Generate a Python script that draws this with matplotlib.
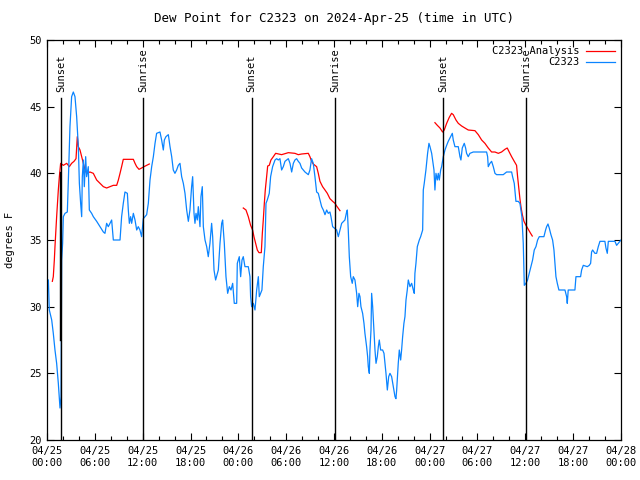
import matplotlib
matplotlib.use("Agg")
import matplotlib.pyplot as plt
import numpy as np

#------------------------------------------------------Data------------------------------------------------------------#
# time in hours since 2024-04-25 00:00 UTC, dew point in degrees F

obs_hours = [0.17, 0.29, 0.59, 0.79, 1.00, 1.21, 1.42, 1.63, 1.76, 1.84, 1.96, 2.05, 2.26, 2.55, 2.68, 2.88,
             3.09, 3.30, 3.51, 3.72, 3.93, 4.06, 4.22, 4.35, 4.43, 4.56, 4.68, 4.85, 4.97, 5.18, 5.31, 5.60,
             5.81, 6.23, 6.65, 7.07, 7.27, 7.48, 7.69, 7.90, 8.11, 8.32, 9.16, 9.36, 9.57, 9.78, 10.08, 10.20,
             10.33, 10.49, 10.62, 10.83, 11.04, 11.25, 11.45, 11.66, 11.87, 12.08, 12.50, 12.71, 12.92, 13.13,
             13.34, 13.55, 13.75, 14.17, 14.38, 14.59, 14.72, 14.92, 15.22, 15.43, 15.64, 15.84, 16.05, 16.26,
             16.47, 16.68, 16.89, 17.10, 17.31, 17.52, 17.73, 17.93, 18.14, 18.27, 18.44, 18.56, 18.69, 18.85,
             18.98, 19.19, 19.31, 19.48, 19.61, 19.82, 20.03, 20.23, 20.44, 20.65, 20.78, 20.95, 21.15, 21.49,
             21.70, 21.91, 22.03, 22.24, 22.45, 22.66, 22.87, 23.08, 23.29, 23.49, 23.79,
             23.87, 24.12, 24.29, 24.46, 24.62, 24.83, 25.25, 25.46, 25.54, 25.67, 25.88, 26.09, 26.30, 26.51,
             26.63, 26.80, 26.96, 27.13, 27.34, 27.47, 27.63, 27.88, 28.05, 28.30, 28.60, 28.81, 29.01, 29.22,
             29.43, 29.64, 29.85, 30.06, 30.27, 30.48, 30.69, 30.90, 31.10, 31.31, 31.52, 31.73, 31.94, 32.36,
             32.78, 32.98, 33.19, 33.40, 33.61, 33.82, 34.03, 34.24, 34.45, 34.66, 34.87, 35.08, 35.28, 35.49,
             35.62, 35.83, 36.33, 36.54, 36.75, 36.96, 37.37, 37.58, 37.67, 37.79, 37.92, 38.09, 38.29, 38.42,
             38.63, 38.84, 38.97, 39.13, 39.26, 39.38, 39.59, 39.76, 39.88, 40.09, 40.22, 40.30, 40.43, 40.51,
             40.64, 40.72, 40.85, 41.01, 41.14, 41.27, 41.43, 41.56, 41.68, 41.85, 42.10, 42.27, 42.39, 42.52,
             42.69, 42.86, 43.02, 43.23, 43.44, 43.65, 43.77, 43.86, 43.98, 44.06, 44.19, 44.36, 44.48, 44.61,
             44.77, 44.90, 45.03, 45.19, 45.32, 45.53, 45.74, 45.95, 46.07, 46.15, 46.28, 46.45, 46.57, 46.70,
             46.87, 47.12, 47.20, 47.32, 47.53, 47.74, 47.91, 48.04, 48.25, 48.37, 48.54, 48.66, 48.79, 48.96,
             49.08, 49.21, 49.38, 49.50, 49.71, 49.92, 50.13, 50.33,
             50.63, 50.84, 50.96, 51.17, 51.59, 51.80, 51.92, 52.09, 52.34, 52.51, 52.63, 52.84, 53.05, 53.47,
             55.14, 55.27, 55.35, 55.56, 55.77, 55.98, 56.19, 56.40, 57.23, 57.44, 57.65, 58.28, 58.40, 58.61,
             58.82, 59.11, 59.32, 59.45, 59.57, 59.74, 59.87, 60.08, 60.28, 60.49, 60.70, 60.91, 61.12, 61.33,
             61.54, 61.75, 62.33, 62.54, 62.67, 62.84, 63.00, 63.21, 63.42, 63.59, 63.71, 63.84, 64.01, 64.21,
             64.97, 65.18, 65.26, 65.38, 66.22, 66.35, 66.93, 67.06, 67.27, 67.77, 68.02, 68.19, 68.31, 68.44,
             68.73, 68.94, 69.15, 69.36, 69.98, 70.11, 70.28, 70.41, 71.24, 71.45, 71.66, 72.0]
obs_dewpt = [32.0, 29.75, 29.0, 28.0, 26.75, 25.75, 24.25, 22.4, 23.25, 33.5, 34.75, 36.75, 37.0, 37.1, 39.5, 43.5,
             45.75, 46.1, 45.75, 44.25, 42.0, 39.25, 37.75, 36.75, 39.75, 41.0, 39.0, 41.25, 39.75, 40.5, 37.25, 37.0,
             36.75, 36.4, 36.0, 35.6, 35.5, 36.25, 36.0, 36.25, 36.5, 35.0, 35.0, 36.75, 37.75, 38.6, 38.5, 37.25,
             36.25, 36.75, 36.25, 37.0, 36.5, 35.75, 36.0, 35.75, 35.25, 36.6, 36.9, 37.75, 39.5, 40.5,
             41.25, 42.25, 43.0, 43.1, 42.5, 41.75, 42.5, 42.75, 42.9, 42.0, 41.25, 40.25, 40.0, 40.25,
             40.6, 40.75, 39.75, 39.25, 38.5, 37.25, 36.4, 37.25, 39.0, 39.75, 37.0, 36.25, 37.0, 36.5,
             37.5, 36.0, 38.25, 39.0, 36.0, 35.0, 34.5, 33.75, 34.75, 36.25, 35.25, 32.75, 32.0, 32.75,
             34.75, 36.25, 36.5, 34.75, 32.25, 31.0, 31.5, 31.25, 31.75, 30.25, 30.25,
             33.25, 33.75, 32.25, 33.5, 33.75, 33.0, 33.0, 32.25, 30.75, 30.0, 30.25, 29.75, 31.25, 32.25,
             30.75, 31.0, 31.25, 33.0, 34.5, 37.75, 38.0, 38.5, 39.75, 40.5, 41.0, 41.1, 41.0, 41.1,
             40.25, 40.5, 40.9, 41.0, 41.1, 40.75, 40.1, 40.75, 41.0, 41.1, 40.9, 40.75, 40.4, 40.1,
             39.9, 40.25, 41.1, 40.75, 39.75, 38.6, 38.5, 38.0, 37.5, 37.25, 36.9, 37.25, 37.0, 37.1,
             36.75, 36.0, 35.75, 35.25, 35.75, 36.25, 36.5, 37.1, 37.25, 35.75, 33.75, 32.25, 31.75, 32.25,
             32.0, 31.0, 30.0, 31.0, 30.75, 30.0, 29.5, 28.75, 28.0, 27.0, 26.25, 25.5, 25.0, 26.75,
             28.25, 31.0, 30.0, 28.25, 26.75, 25.75, 26.25, 27.0, 27.5, 26.75, 26.75, 26.5, 25.75, 25.0,
             23.75, 24.75, 25.0, 24.75, 24.0, 23.25, 23.1, 23.75, 25.0, 25.75, 26.75, 26.0, 26.75, 27.75,
             28.75, 29.25, 30.5, 31.25, 32.0, 31.5, 31.75, 31.25, 31.0, 32.5, 33.25, 34.5, 34.75, 35.0,
             35.25, 35.75, 38.75, 39.25, 40.25, 41.5, 42.25, 42.0, 41.5, 41.0, 40.25, 38.75, 40.0, 39.5,
             40.0, 39.5, 40.25, 40.5, 41.25, 41.75, 42.1, 42.4,
             42.75, 43.0, 42.5, 42.0, 42.0, 41.25, 41.0, 41.9, 42.25, 41.9, 41.5, 41.25, 41.5, 41.6,
             41.6, 41.25, 40.5, 40.75, 40.9, 40.5, 40.0, 39.9, 39.9, 40.0, 40.1, 40.1, 39.75, 39.25,
             37.9, 37.9, 37.75, 37.25, 36.75, 34.75, 31.6, 31.75, 32.0, 32.5, 33.0, 33.5, 34.25, 34.5,
             35.0, 35.25, 35.25, 35.75, 36.0, 36.2, 35.9, 35.4, 35.0, 34.25, 33.25, 32.25, 31.75, 31.25,
             31.25, 30.75, 30.25, 31.25, 31.25, 32.25, 32.25, 32.75, 33.1, 33.0, 33.1, 33.25, 34.1, 34.25,
             34.0, 34.0, 34.5, 34.9, 34.9, 34.4, 34.0, 34.9, 34.9, 34.6, 34.75, 35.0]

# analysis runs (three separate pieces)
ana1_hours = [0.67, 0.79, 0.92, 1.00, 1.21, 1.42, 1.55, 1.71, 2.05, 2.47, 2.80, 3.09, 3.39, 3.64, 3.80, 3.93,
              4.14, 4.35, 4.56, 4.77, 4.97, 5.39, 5.81, 6.23, 6.65, 7.07, 7.48, 8.32, 8.74, 8.95, 9.16, 9.36,
              9.57, 10.83, 11.04, 11.25, 11.54, 11.87, 12.17, 12.50, 12.83]
ana1_dewpt = [31.9, 32.25, 33.5, 34.5, 36.75, 38.75, 39.75, 40.75, 40.6, 40.75, 40.5, 40.75, 40.9, 41.1, 42.75, 42.0,
              41.75, 41.25, 40.75, 40.25, 40.0, 40.1, 40.0, 39.5, 39.25, 39.0, 38.9, 39.1, 39.1, 39.5, 40.0, 40.5,
              41.05, 41.05, 40.75, 40.5, 40.3, 40.4, 40.5, 40.6, 40.7]
ana2_hours = [24.62, 24.96, 25.25, 25.54, 25.79, 25.96, 26.17, 26.38, 26.59, 26.88, 27.01, 27.13, 27.26, 27.38,
              27.55, 27.68, 27.88, 28.09, 28.39, 28.68, 29.43, 30.27, 31.10, 31.52, 31.94, 32.78, 32.98, 33.19,
              33.40, 33.82, 34.03, 34.24, 34.57, 34.87, 35.16, 35.49, 35.83, 36.12, 36.33, 36.75]
ana2_dewpt = [37.4, 37.25, 36.75, 36.1, 35.75, 35.25, 34.75, 34.25, 34.05, 34.05, 35.5, 36.5, 37.75, 38.75,
              39.75, 40.55, 40.6, 41.0, 41.25, 41.5, 41.4, 41.55, 41.5, 41.4, 41.45, 41.5, 41.25, 40.9,
              40.7, 40.5, 40.0, 39.4, 39.0, 38.75, 38.5, 38.1, 37.9, 37.75, 37.55, 37.2]
ana3_hours = [48.66, 48.96, 49.29, 49.62, 49.83, 50.13, 50.46, 50.75, 50.96, 51.30, 51.59, 52.01, 52.42, 52.84,
              53.68, 54.10, 54.52, 54.93, 55.35, 55.77, 56.19, 56.61, 57.02, 57.44, 57.73, 57.98, 58.28, 58.61,
              58.90, 59.03, 59.16, 59.32, 59.45, 59.62, 59.83, 60.08, 60.37, 60.66, 60.87]
ana3_dewpt = [43.8, 43.6, 43.4, 43.1, 43.25, 43.75, 44.2, 44.5, 44.4, 44.0, 43.75, 43.55, 43.4, 43.25,
              43.2, 42.9, 42.5, 42.25, 41.9, 41.6, 41.6, 41.5, 41.6, 41.8, 41.9, 41.6, 41.25, 40.9,
              40.6, 39.75, 39.0, 38.1, 37.5, 36.9, 36.4, 36.1, 35.8, 35.5, 35.3]

sun_hours = [1.76, 12.08, 25.67, 36.17, 49.71, 60.13]
sun_labels = ["Sunset", "Sunrise", "Sunset", "Sunrise", "Sunset", "Sunrise"]

tick_hours = list(range(0, 73, 6))
tick_labels = ["04/25\n00:00", "04/25\n06:00", "04/25\n12:00", "04/25\n18:00",
               "04/26\n00:00", "04/26\n06:00", "04/26\n12:00", "04/26\n18:00",
               "04/27\n00:00", "04/27\n06:00", "04/27\n12:00", "04/27\n18:00",
               "04/28\n00:00"]

#------------------------------------------------------Plot------------------------------------------------------------#
plt.rcParams['font.family'] = ['DejaVu Sans Mono']
plt.rcParams['font.size'] = 7.5

fig = plt.figure(figsize=[6.4, 4.8], dpi=100)
ax = fig.add_axes([47/640, 40/480, 574/640, 400/480])

red = '#ff0000'
blue = '#0a84ff'

ax.plot(ana1_hours, ana1_dewpt, color=red, lw=0.9, label="C2323 Analysis")
ax.plot(ana2_hours, ana2_dewpt, color=red, lw=0.9)
ax.plot(ana3_hours, ana3_dewpt, color=red, lw=0.9)
ax.plot(obs_hours, obs_dewpt, color=blue, lw=0.9, label="C2323")

# sunrise / sunset markers
for h, s in zip(sun_hours, sun_labels):
    ax.plot([h, h], [20, 45.65], color='black', lw=1.0)
    ax.text(h, 46.1, s, rotation=90, ha='center', va='bottom')
ax.plot([1.63, 1.63], [27.5, 40.1], color='black', lw=1.0)

ax.set_xlim(0, 72)
ax.set_ylim(20, 50)
ax.set_xticks(tick_hours)
ax.set_xticklabels(tick_labels, linespacing=1.3)
ax.set_xticks(np.arange(0, 73, 2), minor=True)
ax.set_yticks(np.arange(20, 51, 5))
ax.tick_params(which='both', direction='in', top=True, right=True, width=0.8)
ax.tick_params(which='major', length=5, pad=4)
ax.tick_params(which='minor', length=3)
for sp in ax.spines.values():
    sp.set_linewidth(0.9)

ax.set_ylabel("degrees F", labelpad=10)
ax.set_title("Dew Point for C2323 on 2024-Apr-25 (time in UTC)", pad=13)

ax.legend(loc='upper right', frameon=False, markerfirst=False, handlelength=2.8,
          borderaxespad=0.2, labelspacing=0.1, handletextpad=0.6)

plt.savefig("out.png", dpi=100)
